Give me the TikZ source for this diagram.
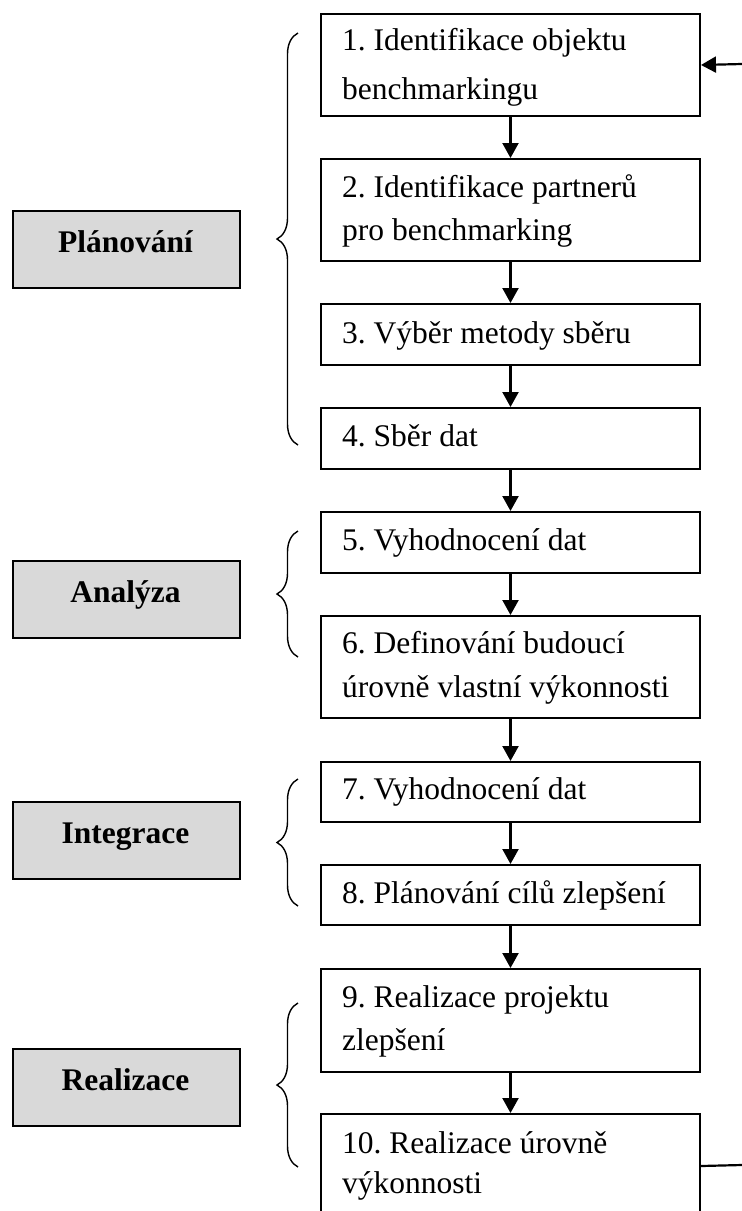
\documentclass[tikz,border=0pt]{standalone}
\usepackage{fontspec}
\setmainfont{Liberation Serif}
\usetikzlibrary{arrows.meta,decorations.pathreplacing}
\definecolor{boxgray}{HTML}{D9D9D9}
\frenchspacing
\begin{document}
\begin{tikzpicture}[x=1pt,y=-1pt,
  stepbox/.style={draw, line width=2pt, inner sep=0pt, anchor=north west, minimum width=379pt},
  phasebox/.style={draw, line width=2pt, fill=boxgray, inner sep=0pt, anchor=north west, minimum width=227pt, minimum height=77pt},
  txt/.style={inner sep=0pt, anchor=base west, font=\fontsize{31.5}{40}\selectfont},
  phasetxt/.style={inner sep=0pt, anchor=base, font=\fontsize{31.5}{40}\selectfont\bfseries},
  flow/.style={line width=2.2pt, -{Triangle[width=16pt,length=15pt]}},
  plain/.style={line width=2.2pt},
  brc/.style={decorate, decoration={brace, amplitude=21pt}, line width=1.4pt}]
\clip (0,0) rectangle (742,1211);
\fill[white] (0,0) rectangle (742,1211);

% step boxes
\node[stepbox, minimum height=102pt] (b1) at (320,13) {};
\node[stepbox, minimum height=102pt] (b2) at (320,158) {};
\node[stepbox, minimum height=61pt] (b3) at (320,303) {};
\node[stepbox, minimum height=61pt] (b4) at (320,407) {};
\node[stepbox, minimum height=61pt] (b5) at (320,511) {};
\node[stepbox, minimum height=102pt] (b6) at (320,615) {};
\node[stepbox, minimum height=60pt] (b7) at (320,761) {};
\node[stepbox, minimum height=60pt] (b8) at (320,864) {};
\node[stepbox, minimum height=103pt] (b9) at (320,968) {};
\node[stepbox, minimum height=104pt] (b10) at (320,1113) {};

% step texts
\node[txt] (t1a) at (342,50) {1. Identifikace objektu};
\node[txt] (t1b) at (342,99) {benchmarkingu};
\node[txt] (t2a) at (342,197) {2. Identifikace partnerů};
\node[txt] (t2b) at (342,240) {pro benchmarking};
\node[txt] (t3) at (342,343) {3. Výběr metody sběru};
\node[txt] (t4) at (342,446) {4. Sběr dat};
\node[txt] (t5) at (342,550) {5. Vyhodnocení dat};
\node[txt] (t6a) at (342,653) {6. Definování budoucí};
\node[txt] (t6b) at (342,697) {úrovně vlastní výkonnosti};
\node[txt] (t7) at (342,799) {7. Vyhodnocení dat};
\node[txt] (t8) at (342,903) {8. Plánování cílů zlepšení};
\node[txt] (t9a) at (342,1007) {9. Realizace projektu};
\node[txt] (t9b) at (342,1050) {zlepšení};
\node[txt] (t10a) at (342,1153) {10. Realizace úrovně};
\node[txt] (t10b) at (342,1193) {výkonnosti};

% phase boxes
\node[phasebox] (pP) at (12,210) {};
\node[phasebox] (pA) at (12,560) {};
\node[phasebox] (pI) at (12,801) {};
\node[phasebox] (pR) at (12,1048) {};
\node[phasetxt] (lP) at (125.5,252) {Plánování};
\node[phasetxt] (lA) at (125.5,602) {Analýza};
\node[phasetxt] (lI) at (125.5,843) {Integrace};
\node[phasetxt] (lR) at (125.5,1090) {Realizace};

% braces
\draw[brc] (298,445) -- (298,33);
\draw[brc] (298,657) -- (298,531);
\draw[brc] (298,906) -- (298,779);
\draw[brc] (298,1167) -- (298,1003);

% flow arrows
\foreach \a/\b in {b1/b2,b2/b3,b3/b4,b4/b5,b5/b6,b6/b7,b7/b8,b8/b9,b9/b10}
  \draw[flow] (\a.south) -- (\b.north);

% feedback stubs
\coordinate (fbT) at (742,64);
\coordinate (fbB) at (742,1165);
\draw[plain] (b10.east) -- (fbB);
\draw[flow] (fbT) -- (b1.east);
\end{tikzpicture}
\end{document}
